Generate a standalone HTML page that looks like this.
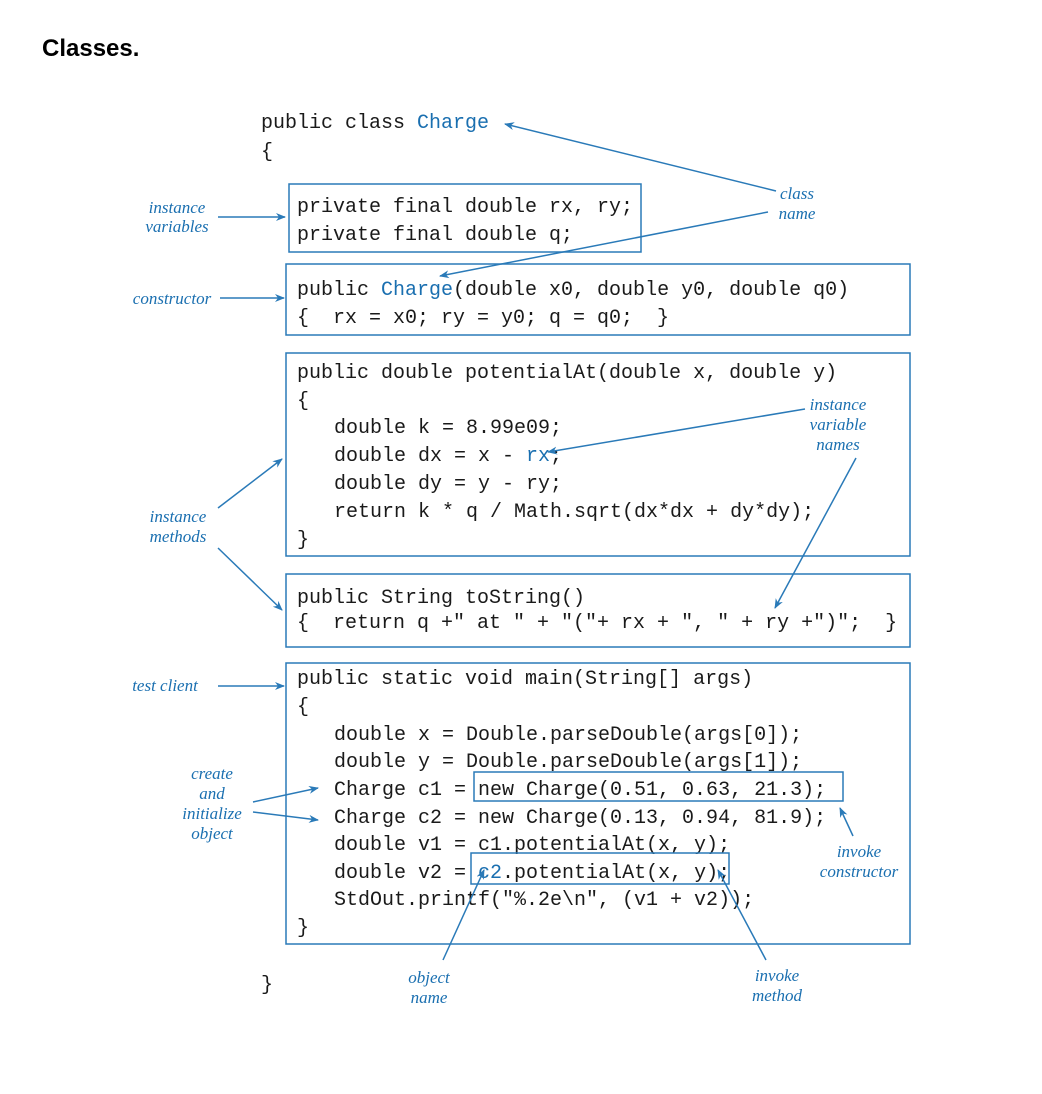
<!DOCTYPE html>
<html><head><meta charset="utf-8"><style>
html,body{margin:0;padding:0;background:#fff;}
svg{display:block}
.c{font-family:"Liberation Mono",monospace;font-size:20px;fill:#1a1a1a;white-space:pre}
.b{fill:#1a6fb0}
.l{font-family:"Liberation Serif",serif;font-style:italic;font-size:17px;fill:#1a6fb0;text-anchor:middle}
.bx{fill:none;stroke:#2a7ab8;stroke-width:1.5}
.a{stroke:#2a7ab8;stroke-width:1.5;fill:none;marker-end:url(#ah)}
</style></head><body>
<svg width="1042" height="1094" viewBox="0 0 1042 1094" xmlns="http://www.w3.org/2000/svg">
<defs><marker id="ah" markerWidth="10" markerHeight="8" refX="9" refY="4" orient="auto" markerUnits="userSpaceOnUse"><path d="M0,0 L10,4 L0,8 L3,4 Z" fill="#2a7ab8"/></marker></defs>
<text x="42" y="56" font-family="Liberation Sans,sans-serif" font-weight="bold" font-size="24" fill="#000">Classes.</text>

<g xml:space="preserve">
<text class="c" x="261" y="128">public class <tspan class="b">Charge</tspan></text>
<text class="c" x="261" y="157">{</text>

<rect class="bx" x="289" y="184" width="352" height="68"/>
<text class="c" x="297" y="212">private final double rx, ry;</text>
<text class="c" x="297" y="240">private final double q;</text>

<rect class="bx" x="286" y="264" width="624" height="71"/>
<text class="c" x="297" y="295">public <tspan class="b">Charge</tspan>(double x0, double y0, double q0)</text>
<text class="c" x="297" y="323">{  rx = x0; ry = y0; q = q0;  }</text>

<rect class="bx" x="286" y="353" width="624" height="203"/>
<text class="c" x="297" y="378">public double potentialAt(double x, double y)</text>
<text class="c" x="297" y="406">{</text>
<text class="c" x="334" y="433">double k = 8.99e09;</text>
<text class="c" x="334" y="461">double dx = x - <tspan class="b">rx</tspan>;</text>
<text class="c" x="334" y="489">double dy = y - ry;</text>
<text class="c" x="334" y="517">return k * q / Math.sqrt(dx*dx + dy*dy);</text>
<text class="c" x="297" y="545">}</text>

<rect class="bx" x="286" y="574" width="624" height="73"/>
<text class="c" x="297" y="603">public String toString()</text>
<text class="c" x="297" y="628">{  return q +" at " + "("+ rx + ", " + ry +")";  }</text>

<rect class="bx" x="286" y="663" width="624" height="281"/>
<text class="c" x="297" y="684">public static void main(String[] args)</text>
<text class="c" x="297" y="712">{</text>
<text class="c" x="334" y="740">double x = Double.parseDouble(args[0]);</text>
<text class="c" x="334" y="767">double y = Double.parseDouble(args[1]);</text>
<text class="c" x="334" y="795">Charge c1 = new Charge(0.51, 0.63, 21.3);</text>
<text class="c" x="334" y="823">Charge c2 = new Charge(0.13, 0.94, 81.9);</text>
<text class="c" x="334" y="850">double v1 = c1.potentialAt(x, y);</text>
<text class="c" x="334" y="878">double v2 = <tspan class="b">c2</tspan>.potentialAt(x, y);</text>
<text class="c" x="334" y="905">StdOut.printf("%.2e\n", (v1 + v2));</text>
<text class="c" x="297" y="933">}</text>
<rect class="bx" x="474" y="772" width="369" height="29"/>
<rect class="bx" x="471" y="853" width="258" height="31"/>

<text class="c" x="261" y="990">}</text>
</g>

<text class="l" x="797" y="199">class</text><text class="l" x="797" y="219">name</text>
<text class="l" x="177" y="213">instance</text><text class="l" x="177" y="232">variables</text>
<text class="l" x="172" y="304">constructor</text>
<text class="l" x="838" y="410">instance</text><text class="l" x="838" y="430">variable</text><text class="l" x="838" y="450">names</text>
<text class="l" x="178" y="522">instance</text><text class="l" x="178" y="542">methods</text>
<text class="l" x="165" y="691">test client</text>
<text class="l" x="212" y="779">create</text><text class="l" x="212" y="799">and</text><text class="l" x="212" y="819">initialize</text><text class="l" x="212" y="839">object</text>
<text class="l" x="859" y="857">invoke</text><text class="l" x="859" y="877">constructor</text>
<text class="l" x="429" y="983">object</text><text class="l" x="429" y="1003">name</text>
<text class="l" x="777" y="981">invoke</text><text class="l" x="777" y="1001">method</text>

<line class="a" x1="776" y1="191" x2="505" y2="124"/>
<line class="a" x1="768" y1="212" x2="440" y2="276"/>
<line class="a" x1="218" y1="217" x2="285" y2="217"/>
<line class="a" x1="220" y1="298" x2="284" y2="298"/>
<line class="a" x1="805" y1="409" x2="548" y2="452"/>
<line class="a" x1="856" y1="458" x2="775" y2="608"/>
<line class="a" x1="218" y1="508" x2="282" y2="459"/>
<line class="a" x1="218" y1="548" x2="282" y2="610"/>
<line class="a" x1="218" y1="686" x2="284" y2="686"/>
<line class="a" x1="253" y1="802" x2="318" y2="788"/>
<line class="a" x1="253" y1="812" x2="318" y2="820"/>
<line class="a" x1="853" y1="836" x2="840" y2="808"/>
<line class="a" x1="443" y1="960" x2="484" y2="870"/>
<line class="a" x1="766" y1="960" x2="718" y2="870"/>
</svg>
</body></html>
